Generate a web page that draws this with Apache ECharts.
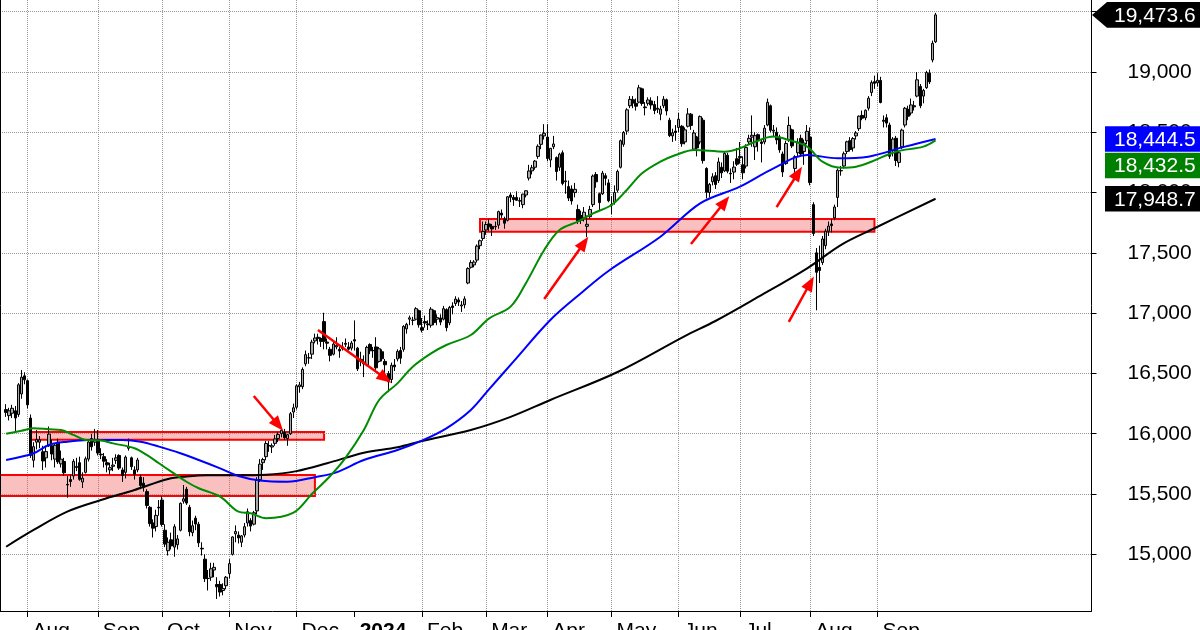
<!DOCTYPE html>
<html><head><meta charset="utf-8">
<script src="https://cdn.jsdelivr.net/npm/echarts@6/dist/echarts.min.js"></script>
<style>html,body{margin:0;padding:0;background:#fff}#c{width:1200px;height:630px}</style>
</head><body><div id="c"></div>
<script>
// ---- DATA (rows: [open, high, low, close]) ----
const monthLabels = ['', 'Aug', 'Sep', 'Oct', 'Nov', 'Dec', '2024', 'Feb', 'Mar', 'Apr', 'May', 'Jun', 'Jul', 'Aug', 'Sep'];
const jul23 = [[16200,16245,16140,16177],[16150,16215,16110,16190],[16170,16240,16130,16211],[16190,16230,16020,16131],[16160,16420,16140,16406],[16330,16528,16290,16469],[16480,16510,16410,16447]];
const aug23 = [[16440,16450,16210,16240],[16130,16160,15800,15820],[15780,15930,15720,15893],[15930,16030,15870,15952],[15930,15980,15880,15950],[15850,15900,15700,15774],[15800,15900,15720,15852],[15900,16060,15890,15997],[15900,15950,15780,15832],[15790,15920,15720,15904],[15930,15960,15750,15767],[15750,15860,15720,15789],[15770,15800,15650,15676],[15580,15650,15470,15575],[15620,15660,15560,15604],[15650,15790,15620,15771],[15720,15800,15690,15729],[15760,15810,15610,15622],[15600,15680,15550,15632],[15680,15810,15670,15792],[15790,15940,15770,15931],[15960,16000,15860,15892],[15930,16040,15900,15947]];
const sep23 = [[15940,16030,15820,15840],[15830,15880,15790,15825],[15810,15840,15720,15772],[15760,15790,15680,15742],[15700,15760,15660,15719],[15730,15800,15690,15740],[15780,15830,15750,15800],[15820,15830,15700,15715],[15700,15720,15600,15654],[15680,15820,15630,15806],[15880,15960,15860,15894],[15800,15810,15700,15727],[15700,15730,15620,15664],[15700,15800,15680,15782],[15640,15660,15540,15571],[15590,15640,15520,15557],[15520,15540,15380,15405],[15390,15400,15230,15255],[15260,15290,15140,15217],[15230,15370,15190,15323],[15390,15450,15320,15386]];
const oct23 = [[15450,15480,15230,15247],[15200,15250,15060,15085],[15030,15140,14990,15100],[15120,15180,15040,15070],[15060,15250,14980,15229],[15080,15160,15040,15128],[15200,15430,15190,15423],[15440,15575,15420,15460],[15540,15560,15410,15425],[15390,15410,15150,15187],[15180,15280,15150,15237],[15300,15320,15200,15251],[15250,15270,15060,15095],[15050,15100,14990,15045],[14960,15000,14770,14798],[14800,14870,14700,14800],[14810,14930,14780,14880],[14870,14930,14810,14892],[14750,14810,14630,14731],[14750,14780,14650,14687],[14700,14760,14660,14717],[14740,14820,14710,14810]];
const nov23 = [[14840,14960,14800,14923],[15000,15150,14990,15144],[15170,15240,15100,15189],[15160,15190,15090,15136],[15100,15160,15060,15153],[15160,15260,15140,15229],[15260,15380,15230,15353],[15280,15300,15190,15234],[15250,15360,15240,15345],[15360,15640,15330,15615],[15620,15790,15600,15748],[15760,15800,15700,15786],[15810,15940,15780,15919],[15900,15940,15850,15901],[15890,15920,15840,15900],[15920,15990,15900,15957],[15960,16010,15930,15994],[16000,16050,15970,16029],[16010,16040,15950,15967],[15960,16000,15900,15992],[16000,16180,15990,16166],[16180,16250,16130,16215]];
const dec23 = [[16220,16410,16200,16397],[16390,16430,16340,16405],[16390,16550,16370,16533],[16580,16690,16560,16656],[16630,16670,16580,16629],[16660,16780,16620,16759],[16770,16830,16750,16794],[16800,16830,16740,16791],[16790,16800,16720,16766],[16930,17003,16700,16766],[16760,16790,16700,16751],[16700,16720,16600,16650],[16660,16770,16650,16744],[16720,16800,16700,16733],[16700,16720,16630,16687],[16720,16760,16690,16706],[16750,16790,16720,16742],[16720,16760,16690,16701],[16710,16770,16690,16752]];
const jan24 = [[16780,16940,16690,16769],[16710,16720,16520,16538],[16600,16680,16560,16617],[16580,16650,16470,16594],[16570,16730,16560,16716],[16740,16750,16660,16688],[16690,16720,16630,16689],[16720,16800,16530,16547],[16600,16720,16590,16705],[16680,16700,16600,16622],[16600,16620,16480,16572],[16500,16520,16345,16431],[16450,16590,16420,16567],[16570,16620,16520,16555],[16620,16700,16600,16683],[16690,16720,16580,16627],[16700,16900,16680,16890],[16870,16920,16830,16907],[16950,16980,16900,16961],[16940,16970,16900,16942],[16950,17050,16940,17037],[17020,17030,16880,16904]];
const feb24 = [[16880,16960,16840,16859],[16930,16980,16880,16918],[16910,16940,16860,16904],[16900,17050,16880,17033],[17020,17030,16900,16922],[16950,16990,16900,16963],[16960,16990,16900,16926],[16950,17060,16940,17037],[17030,17040,16850,16880],[16920,17060,16900,17047],[17060,17090,16990,17047],[17080,17140,17060,17117],[17110,17130,17060,17092],[17060,17100,17010,17068],[17070,17140,17040,17118],[17250,17380,17240,17370],[17380,17440,17370,17419],[17400,17440,17380,17424],[17440,17570,17420,17556],[17560,17610,17530,17601],[17620,17760,17600,17678]];
const mar24 = [[17690,17760,17650,17735],[17740,17780,17680,17716],[17720,17740,17640,17698],[17720,17760,17690,17716],[17730,17850,17700,17842],[17830,17860,17790,17814],[17780,17800,17700,17746],[17770,17970,17760,17965],[17980,18000,17920,17961],[17960,17980,17890,17942],[17960,18010,17930,17936],[17930,17960,17880,17933],[17900,17990,17870,17987],[17980,18020,17960,18015],[18120,18230,18100,18179],[18180,18230,18150,18206],[18210,18270,18190,18261],[18300,18400,18280,18384],[18400,18480,18360,18477],[18470,18567,18440,18492]];
const apr24 = [[18460,18567,18260,18283],[18270,18370,18210,18367],[18380,18470,18360,18403],[18290,18300,18100,18175],[18210,18330,18180,18318],[18330,18350,18060,18076],[18090,18180,17990,18097],[18050,18100,17930,17954],[18030,18060,17900,17930],[18000,18080,17960,18027],[17860,17900,17740,17766],[17810,17850,17740,17770],[17790,17880,17760,17837],[17720,17810,17630,17737],[17800,17890,17780,17860],[17900,18150,17880,18137],[18150,18170,18040,18089],[17990,18000,17850,17917],[17990,18180,17980,18161],[18140,18160,18060,18118],[18080,18110,17920,17932]];
const may24 = [[17900,17970,17820,17896],[17920,18060,17900,18001],[18020,18190,18000,18175],[18210,18440,18200,18430],[18400,18510,18380,18498],[18510,18700,18480,18686],[18720,18800,18700,18773],[18770,18800,18700,18742],[18740,18780,18680,18716],[18750,18893,18740,18869],[18860,18870,18720,18739],[18710,18750,18640,18704],[18740,18790,18720,18768],[18760,18790,18690,18726],[18730,18760,18650,18680],[18700,18800,18660,18691],[18650,18720,18600,18693],[18720,18800,18700,18774],[18770,18780,18640,18677],[18600,18620,18460,18473],[18470,18530,18420,18496],[18510,18560,18430,18498]];
const jun24 = [[18540,18660,18500,18608],[18550,18560,18380,18405],[18420,18540,18400,18520],[18550,18700,18540,18652],[18650,18660,18520,18557],[18360,18520,18350,18494],[18460,18470,18300,18370],[18420,18640,18400,18630],[18600,18620,18240,18265],[18200,18210,17951,18002],[18000,18080,17960,18068],[18090,18160,18060,18131],[18140,18170,18030,18067],[18100,18290,18080,18254],[18210,18250,18120,18163],[18180,18340,18170,18325],[18310,18330,18160,18177],[18160,18200,18080,18155],[18170,18260,18110,18211],[18280,18370,18220,18235]];
const jul24 = [[18300,18420,18240,18291],[18230,18300,18110,18164],[18220,18400,18200,18374],[18420,18480,18400,18450],[18460,18640,18380,18475],[18380,18500,18270,18472],[18480,18490,18340,18429],[18420,18440,18250,18407],[18420,18560,18400,18534],[18560,18780,18550,18748],[18720,18730,18500,18517],[18510,18560,18460,18518],[18500,18540,18400,18437],[18460,18480,18330,18354],[18320,18340,18130,18171],[18240,18430,18230,18407],[18440,18630,18420,18557],[18520,18530,18370,18387],[18200,18310,18120,18298],[18330,18450,18300,18417],[18450,18480,18300,18320],[18340,18440,18230,18411],[18430,18560,18400,18508]];
const aug24 = [[18460,18540,18060,18083],[17900,17920,17640,17661],[17500,17540,17024,17339],[17380,17560,17250,17354],[17420,17640,17400,17615],[17560,17700,17530,17680],[17680,17760,17640,17722],[17740,17780,17670,17726],[17790,17900,17770,17880],[17960,18200,17880,18185],[18180,18220,18140,18183],[18220,18340,18200,18322],[18340,18430,18320,18421],[18430,18460,18340,18357],[18370,18460,18340,18448],[18470,18510,18440,18494],[18530,18640,18510,18633],[18640,18680,18600,18617],[18620,18690,18600,18682],[18700,18800,18680,18782],[18830,18930,18800,18912],[18920,18970,18860,18906]];
const sep24 = [[18910,18990,18880,18931],[18930,18960,18740,18747],[18600,18640,18540,18591],[18620,18650,18540,18576],[18560,18580,18280,18301],[18350,18460,18300,18444],[18450,18470,18220,18266],[18250,18340,18210,18330],[18380,18530,18360,18518],[18560,18710,18540,18699],[18690,18720,18600,18633],[18660,18780,18640,18727],[18720,18760,18680,18711],[18800,19000,18790,18935],[18880,18900,18700,18720],[18800,18860,18740,18847],[18870,19010,18860,18996],[18990,19020,18900,18918],[19100,19260,19080,19238],[19250,19490,19240,19473.6]];
const allMonths = [jul23, aug23, sep23, oct23, nov23, dec23, jan24, feb24, mar24, apr24, may24, jun24, jul24, aug24, sep24];

// moving averages: trading-day index (0 = first candle) and value
const ma50Days = [0,5,9,14,18,22,26,31,35,42,46,50,54,59,63,70,76,80,85,94,100,106,111,117,122,128,133,139,144,152,158,165,170,176,181,187,192,198,203,208,214,219,225,235,240,245,251,256,262,267,273,278,283,291,300,304];
const ma50Vals = [16000,16025,16045,16037,16031,15990,15948,15943,15920,15880,15824,15755,15686,15602,15548,15478,15354,15340,15299,15345,15500,15650,15800,16031,16280,16418,16556,16667,16736,16819,16957,17054,17248,17524,17690,17759,17828,17897,18021,18160,18257,18312,18353,18339,18367,18422,18464,18436,18381,18256,18206,18215,18256,18339,18381,18432.5];
const ma100Days = [0,9,14,20,27,38,44,50,57,63,70,76,83,92,101,108,117,128,136,144,152,158,166,178,188,197,214,227,240,251,262,272,282,294,304];
const ma100Vals = [15782,15838,15907,15934,15948,15948,15934,15893,15838,15782,15713,15650,15612,15602,15640,15680,15782,15865,15943,16045,16197,16370,16600,16943,17165,17350,17634,17911,18049,18201,18312,18284,18298,18381,18444.5];
const ma200Days = [0,9,20,31,42,53,59,66,76,85,95,105,117,128,136,152,165,178,200,222,232,245,262,273,284,304];
const ma200Vals = [15063,15202,15354,15450,15534,15625,15645,15655,15655,15660,15690,15755,15843,15888,15940,16031,16140,16280,16512,16810,16935,17120,17372,17565,17704,17948.7];

const yTicks = [15000,15500,16000,16500,17000,17500,18000,18500,19000,19500];

// annotation zones [dayIndexFrom, dayIndexTo, low, high] and arrows [dayFrom, valFrom, dayTo, valTo]
const zones = [[8.47, 103.97, 15950, 16015], [-2, 101.36, 15484, 15658], [155.3, 283.9, 17675, 17780]];
const arrows = [[80.75,16313,88.93,16073],[102.1,16860,123.9,16460],[175.9,17117,189.0,17582],[224.0,17574,235.1,17922],[252.1,17880,258.7,18162],[255.7,16927,262.6,17250]];

// ---- BUILD ----
const PAD_BEFORE = 2, PAD_AFTER = 51;
const categories = [], candles = [], labelOf = {}, tickCats = new Set(), gridCats = new Set();
for (let p = 0; p < PAD_BEFORE; p++) { categories.push('p' + p); candles.push(['-','-','-','-']); }
allMonths.forEach((m, mi) => {
  m.forEach((d, di) => {
    const name = 'm' + mi + 'd' + di;
    if (di === 0 && monthLabels[mi]) {
      labelOf[name] = monthLabels[mi];
      tickCats.add(categories.length);
      if (monthLabels[mi] !== '2024') gridCats.add(categories.length);
    }
    categories.push(name);
    candles.push([d[0], d[3], d[2], d[1]]);
  });
});
for (let p = 0; p < PAD_AFTER; p++) categories.push('f' + p);

const toPts = (days, vals) => days.map((d, k) => [d + PAD_BEFORE, vals[k]]);
const FONT = "'Liberation Sans', Arial, sans-serif";
const fmt0 = v => Math.round(v).toLocaleString('en-US');
const fmt1 = v => v.toLocaleString('en-US', {minimumFractionDigits: 1, maximumFractionDigits: 1});

const chart = echarts.init(document.getElementById('c'), null, {renderer: 'canvas'});
chart.setOption({
  animation: false,
  backgroundColor: '#fff',
  grid: {left: 0, top: 0, width: 1091.5, height: 611, containLabel: false, outerBoundsMode: 'none'},
  xAxis: {
    type: 'category', data: categories, boundaryGap: false,
    axisLine: {show: true, onZero: false, lineStyle: {color: '#000', width: 1}},
    axisTick: {show: true, interval: i => tickCats.has(i), length: 6, lineStyle: {color: '#000'}},
    axisLabel: {
      show: true, interval: i => tickCats.has(i), hideOverlap: false,
      formatter: v => labelOf[v] === '2024' ? '{b|2024}' : (labelOf[v] || ''),
      align: 'left', verticalAlign: 'top', padding: [0, 0, 0, 5], margin: 10,
      color: '#000', fontSize: 21, fontFamily: FONT,
      rich: {b: {fontWeight: 'bold', fontSize: 21, fontFamily: FONT, color: '#000'}}
    },
    splitLine: {show: true, interval: i => gridCats.has(i), lineStyle: {color: '#999', type: 'dotted', width: 1}}
  },
  yAxis: {
    type: 'value', position: 'right', min: 14530, max: 19597,
    axisLine: {show: true, lineStyle: {color: '#000', width: 1}},
    axisTick: {show: true, customValues: yTicks, length: 5, lineStyle: {color: '#000'}},
    axisLabel: {show: true, customValues: yTicks, formatter: v => fmt0(v), margin: 36, color: '#000', fontSize: 21, fontFamily: FONT},
    splitLine: {show: false}
  },
  series: [
    {
      type: 'candlestick', name: 'DAX', data: candles, barWidth: 3, z: 3,
      itemStyle: {color: '#a8a8a8', color0: '#000', borderColor: '#000', borderColor0: '#000', borderWidth: 1},
      emphasis: {disabled: true}, silent: true
    },
    {
      type: 'line', name: 'MA200', data: toPts(ma200Days, ma200Vals), smooth: 0.35, showSymbol: false, z: 4, silent: true,
      lineStyle: {color: '#000', width: 2}, itemStyle: {color: '#000'},
      markArea: {
        silent: true, z: 1,
        itemStyle: {color: 'rgba(240,60,60,0.32)', borderColor: '#ff0000', borderWidth: 2},
        data: zones.map(z => [{coord: [z[0] + PAD_BEFORE, z[2]]}, {coord: [z[1] + PAD_BEFORE, z[3]]}])
      },
      markLine: {
        silent: true, z: 6, symbol: ['none', 'triangle'], symbolSize: [12, 15],
        label: {show: false}, lineStyle: {color: '#ff0000', width: 2.5, type: 'solid'},
        data: arrows.map(a => [{coord: [a[0] + PAD_BEFORE, a[1]]}, {coord: [a[2] + PAD_BEFORE, a[3]]}])
      }
    },
    {
      type: 'line', name: 'MA100', data: toPts(ma100Days, ma100Vals), smooth: 0.35, showSymbol: false, z: 5, silent: true,
      lineStyle: {color: '#0000ff', width: 2}, itemStyle: {color: '#0000ff'},
      markLine: {
        silent: true, z: 1, symbol: ['none', 'none'], label: {show: false},
        lineStyle: {color: '#999', type: 'dotted', width: 1},
        data: yTicks.map(v => ({yAxis: v}))
      }
    },
    {
      type: 'line', name: 'MA50', data: toPts(ma50Days, ma50Vals), smooth: 0.35, showSymbol: false, z: 5, silent: true,
      lineStyle: {color: '#008c00', width: 2}, itemStyle: {color: '#008c00'}
    }
  ]
});

// value tags on the right axis
const lastClose = sep24[sep24.length - 1][3];
const yPx = v => chart.convertToPixel({yAxisIndex: 0}, v);
const yClose = yPx(lastClose);
const yBlue = yPx(ma100Vals[ma100Vals.length - 1]);
const yGreen = Math.max(yPx(ma50Vals[ma50Vals.length - 1]), yBlue + 26.5);
const yBlack = yPx(ma200Vals[ma200Vals.length - 1]);
const H = 12.8;
const textEl = (y, s) => ({type: 'text', z: 101, style: {x: 1114, y: y + 1, text: s, fill: '#fff', font: '21px ' + FONT, verticalAlign: 'middle', align: 'left'}});
const boxEl = (y, c) => ({type: 'rect', z: 100, shape: {x: 1105, y: y - H, width: 95, height: 2 * H}, style: {fill: c}});
chart.setOption({
  graphic: [
    {type: 'line', z: 50, shape: {x1: 0.5, y1: 0, x2: 0.5, y2: 611}, style: {stroke: '#000', lineWidth: 1}},
    {type: 'polygon', z: 100, shape: {points: [[1092, yClose], [1107, yClose - H], [1200, yClose - H], [1200, yClose + H], [1107, yClose + H]]}, style: {fill: '#000'}},
    textEl(yClose, fmt1(lastClose)),
    boxEl(yBlue, '#0000ff'), textEl(yBlue, fmt1(ma100Vals[ma100Vals.length - 1])),
    boxEl(yGreen, '#008000'), textEl(yGreen, fmt1(ma50Vals[ma50Vals.length - 1])),
    boxEl(yBlack, '#000'), textEl(yBlack, fmt1(ma200Vals[ma200Vals.length - 1]))
  ]
});
</script>
</body></html>
